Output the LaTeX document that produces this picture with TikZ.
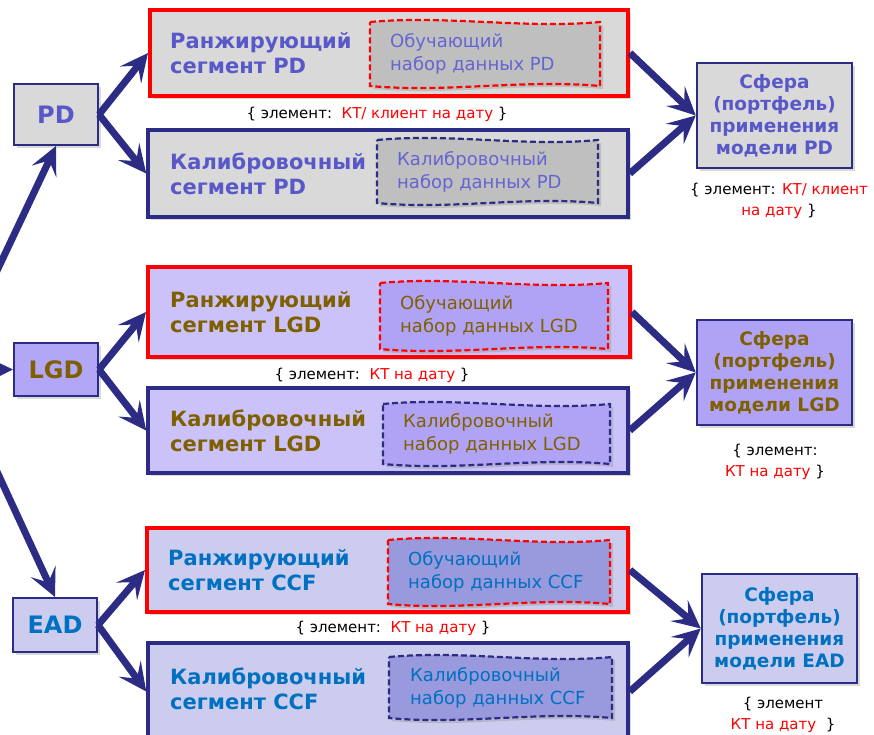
\documentclass[tikz,border=0pt]{standalone}
\usepackage{fontspec}
\setmainfont{DejaVu Sans}
\usepackage{tikz}
\usetikzlibrary{arrows.meta, positioning, calc, shadows}

\definecolor{navy}{RGB}{44,44,132}
\definecolor{pdblue}{RGB}{88,88,200}
\definecolor{pdsettext}{RGB}{100,100,210}
\definecolor{pdgray}{RGB}{217,217,217}
\definecolor{pdset}{RGB}{191,191,191}
\definecolor{lgdbrown}{RGB}{127,96,0}
\definecolor{lgdfill}{RGB}{204,194,250}
\definecolor{lgdnode}{RGB}{178,166,246}
\definecolor{lgdset}{RGB}{176,163,245}
\definecolor{eadblue}{RGB}{0,112,192}
\definecolor{eadfill}{RGB}{204,204,238}
\definecolor{eadset}{RGB}{153,153,221}

% wavy data set frame: style, centre x, centre y, width, height
\newcommand{\wavyset}[5]{%
  \begin{scope}[shift={(#2,#3)}]
    \draw[#1] (-#4/2,-#5/2) .. controls (-#4/6,-#5/2-7) and (#4/6,-#5/2+7) .. (#4/2,-#5/2)
      -- (#4/2,#5/2) .. controls (#4/6,#5/2-7) and (-#4/6,#5/2+7) .. (-#4/2,#5/2) -- cycle;
  \end{scope}}

\begin{document}
\begin{tikzpicture}[x=1pt, y=-1pt,
    shade/.style={drop shadow={shadow xshift=3pt, shadow yshift=-3pt, opacity=0.3}},
    model/.style={rectangle, draw=navy, line width=2pt, minimum width=84pt, minimum height=54pt, font=\fontsize{24}{28}\selectfont\bfseries, shade},
    segment/.style={rectangle, draw=navy, line width=3.5pt, minimum width=480pt, minimum height=86pt, shade},
    ranking/.style={segment, draw=red, line width=4pt},
    title/.style={anchor=west, align=left, inner sep=0pt, font=\fontsize{21}{25}\selectfont\bfseries},
    settext/.style={anchor=west, align=left, inner sep=0pt, font=\fontsize{18}{23}\selectfont},
    sphere/.style={rectangle, draw=navy, line width=2.5pt, minimum width=155pt, minimum height=105pt, align=center, font=\fontsize{18.5}{22}\selectfont\bfseries, shade},
    note/.style={align=center, inner sep=0pt, font=\fontsize{15}{21}\selectfont},
    trainset/.style={draw=red, line width=2.2pt, dash pattern=on 6pt off 3pt, shade},
    calset/.style={draw=navy, line width=2.2pt, dash pattern=on 6pt off 3pt, shade},
    line/.style={draw=navy, line width=7pt, -{Stealth[length=28pt, width=27pt, inset=12pt]}}
]
    \useasboundingbox (0,0) rectangle (874,734);
    \clip (0,0) rectangle (874,734);

    % PD
    \node[model, fill=pdgray, text=pdblue, minimum height=61pt] (pd) at (56,114.5) {PD};
    \node[ranking, fill=pdgray, minimum width=478pt] (rankpd) at (389,53) {};
    \node[segment, fill=pdgray, minimum height=87pt] (calpd) at (388,173.5) {};
    \wavyset{trainset, fill=pdset}{485}{54}{230}{64}
    \wavyset{calset, fill=pdset}{487.5}{171.5}{221}{63}
    \node[title, text=pdblue] (rankpdt) at (170,53) {Ранжирующий\\сегмент PD};
    \node[title, text=pdblue] (calpdt) at (170,173.5) {Калибровочный\\сегмент PD};
    \node[settext, text=pdsettext] (trainpd) at (390,54) {Обучающий\\набор данных PD};
    \node[settext, text=pdsettext] (setpd) at (397,171.5) {Калибровочный\\набор данных PD};
    \node[sphere, fill=pdgray, text=pdblue] (sphpd) at (774.5,115.5) {Сфера\\(портфель)\\применения\\модели PD};
    \node[note] (notepd) at (377,114) {\{ элемент:\ \ \textcolor{red}{КТ/ клиент на дату} \}};
    \node[note] (notesphpd) at (779,200.5) {\{ элемент: \textcolor{red}{КТ/ клиент}\\\textcolor{red}{на дату} \}};

    % LGD
    \node[model, fill=lgdnode, text=lgdbrown, minimum height=53pt] (lgd) at (56,369.5) {LGD};
    \node[ranking, fill=lgdfill, minimum width=482pt, minimum height=90pt] (ranklgd) at (389,312) {};
    \node[segment, fill=lgdfill, minimum height=85pt] (callgd) at (388,430.5) {};
    \wavyset{trainset, fill=lgdset}{494}{316}{228}{66}
    \wavyset{calset, fill=lgdset}{496.5}{434}{227}{60}
    \node[title, text=lgdbrown] (ranklgdt) at (170,312) {Ранжирующий\\сегмент LGD};
    \node[title, text=lgdbrown] (callgdt) at (170,430.5) {Калибровочный\\сегмент LGD};
    \node[settext, text=lgdbrown] (trainlgd) at (400,316) {Обучающий\\набор данных LGD};
    \node[settext, text=lgdbrown] (setlgd) at (403,434) {Калибровочный\\набор данных LGD};
    \node[sphere, fill=lgdset, text=lgdbrown] (sphlgd) at (774.5,372.5) {Сфера\\(портфель)\\применения\\модели LGD};
    \node[note] (notelgd) at (372,375) {\{ элемент:\ \ \textcolor{red}{КТ на дату} \}};
    \node[note] (notesphlgd) at (775,461.5) {\{ элемент:\\\textcolor{red}{КТ на дату} \}};

    % EAD
    \node[model, fill=eadfill, text=eadblue] (ead) at (55,625) {EAD};
    \node[ranking, fill=eadfill, minimum width=481pt, minimum height=84pt] (rankccf) at (387.5,570) {};
    \node[segment, fill=eadfill, minimum height=97pt] (calccf) at (388,691.5) {};
    \wavyset{trainset, fill=eadset}{499}{572}{222}{64}
    \wavyset{calset, fill=eadset}{500.5}{687.5}{223}{61}
    \node[title, text=eadblue] (rankccft) at (168,570) {Ранжирующий\\сегмент CCF};
    \node[title, text=eadblue] (calccft) at (170,689) {Калибровочный\\сегмент CCF};
    \node[settext, text=eadblue] (trainccf) at (408,572) {Обучающий\\набор данных CCF};
    \node[settext, text=eadblue] (setccf) at (410,687.5) {Калибровочный\\набор данных CCF};
    \node[sphere, fill=eadfill, text=eadblue, minimum height=109pt] (sphead) at (779.5,628.5) {Сфера\\(портфель)\\применения\\модели EAD};
    \node[note] (noteccf) at (393,628) {\{ элемент:\ \ \textcolor{red}{КТ на дату} \}};
    \node[note] (notesphead) at (783,715) {\{ элемент\\\textcolor{red}{КТ на дату}\ \ \}};

    % connectors
    \coordinate (src) at (-50,370);
    \path[line] (src) -- (pd.south);
    \path[line] (src) -- (lgd.west);
    \path[line] (src) -- (ead.north);
    \path[line] (pd.east) -- (rankpd.west);
    \path[line] (pd.east) -- (calpd.west);
    \path[line] (rankpd.east) -- (sphpd.west);
    \path[line] (calpd.east) -- (sphpd.west);
    \path[line] (lgd.east) -- (ranklgd.west);
    \path[line] (lgd.east) -- (callgd.west);
    \path[line] (ranklgd.east) -- (sphlgd.west);
    \path[line] (callgd.east) -- (sphlgd.west);
    \path[line] (ead.east) -- (rankccf.west);
    \path[line] (ead.east) -- (calccf.west);
    \path[line] (rankccf.east) -- (sphead.west);
    \path[line] (calccf.east) -- (sphead.west);
\end{tikzpicture}
\end{document}
